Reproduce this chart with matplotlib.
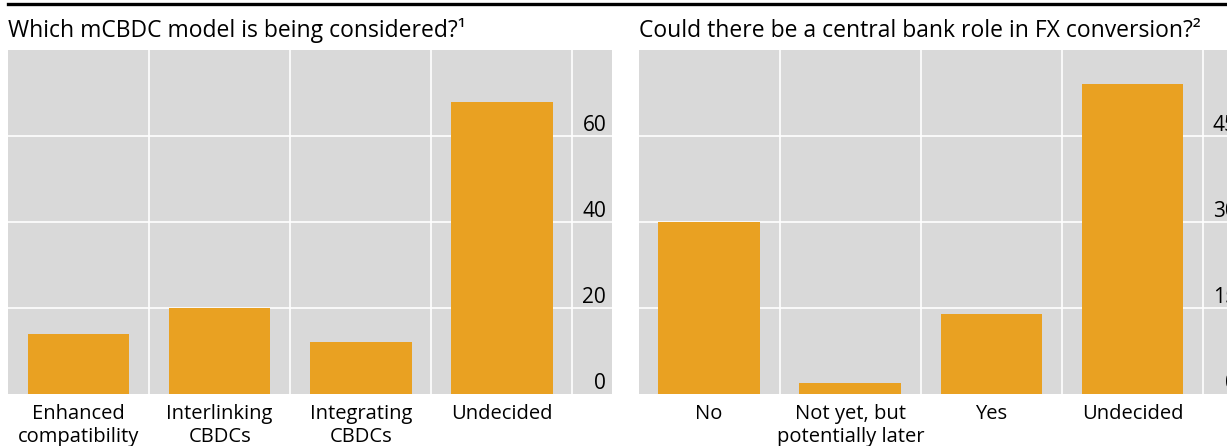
import matplotlib
matplotlib.use("Agg")
import matplotlib.pyplot as plt
from matplotlib.lines import Line2D
from matplotlib.transforms import blended_transform_factory, offset_copy

plt.rcParams['font.family'] = ['Open Sans', 'DejaVu Sans']

# Left panel: mCBDC model
models = ['Enhanced\ncompatibility', 'Interlinking\nCBDCs', 'Integrating\nCBDCs', 'Undecided']
model_share = [14, 20, 12, 68]
model_ticks = [0, 20, 40, 60]
model_title = 'Which mCBDC model is being considered?¹'

# Right panel: central bank role in FX conversion
fx_answers = ['No', 'Not yet, but\npotentially later', 'Yes', 'Undecided']
fx_share = [30, 2, 14, 54]
fx_ticks = [0, 15, 30, 45]
fx_title = 'Could there be a central bank role in FX conversion?²'

BAR = '#E9A122'
BG = '#D9D9D9'

W, H = 1227, 446
fig = plt.figure(figsize=(W / 100, H / 100), dpi=100)

ax_w = 604 / W
ax_b = (H - 394) / H
ax_h = 344 / H
ax1 = fig.add_axes([8 / W, ax_b, ax_w, ax_h])
ax2 = fig.add_axes([638.6 / W, ax_b, ax_w, ax_h])


def panel(ax, cats, vals, ticks, top, title):
    x = range(len(cats))
    ax.set_facecolor(BG)
    ax.bar(x, vals, width=0.72, color=BAR, zorder=3)
    ax.set_xlim(-0.5, 3.78)
    ax.set_ylim(0, top)
    for s in ax.spines.values():
        s.set_visible(False)
    for b in [0.5, 1.5, 2.5, 3.5]:
        ax.axvline(b, color='white', lw=1.2, zorder=1)
    for t in ticks[1:]:
        ax.axhline(t, color='white', lw=1.2, zorder=1)
    ax.set_yticks([])
    ax.set_xticks(list(x))
    ax.set_xticklabels(cats, fontsize=14.5, linespacing=1.25, va='top')
    ax.tick_params(axis='x', length=0, pad=7)
    tr = offset_copy(blended_transform_factory(ax.transAxes, ax.transData),
                     fig=ax.figure, x=-2, y=0, units='points')
    for t in ticks:
        ax.text(1 - 3 / 604, t, str(t), transform=tr, ha='right', va='bottom',
                fontsize=15, zorder=4)
    pos = ax.get_position()
    fig.text(pos.x0, 1 - 37 / H, title, fontsize=16.5, ha='left', va='baseline')


panel(ax1, models, model_share, model_ticks, 80, model_title)
panel(ax2, fx_answers, fx_share, fx_ticks, 60, fx_title)

# black rule across the top
fig.add_artist(Line2D([8 / W, 1], [1 - 3.5 / H] * 2, color='black', lw=2.4,
                      transform=fig.transFigure))

fig.savefig('out.png', dpi=100)
